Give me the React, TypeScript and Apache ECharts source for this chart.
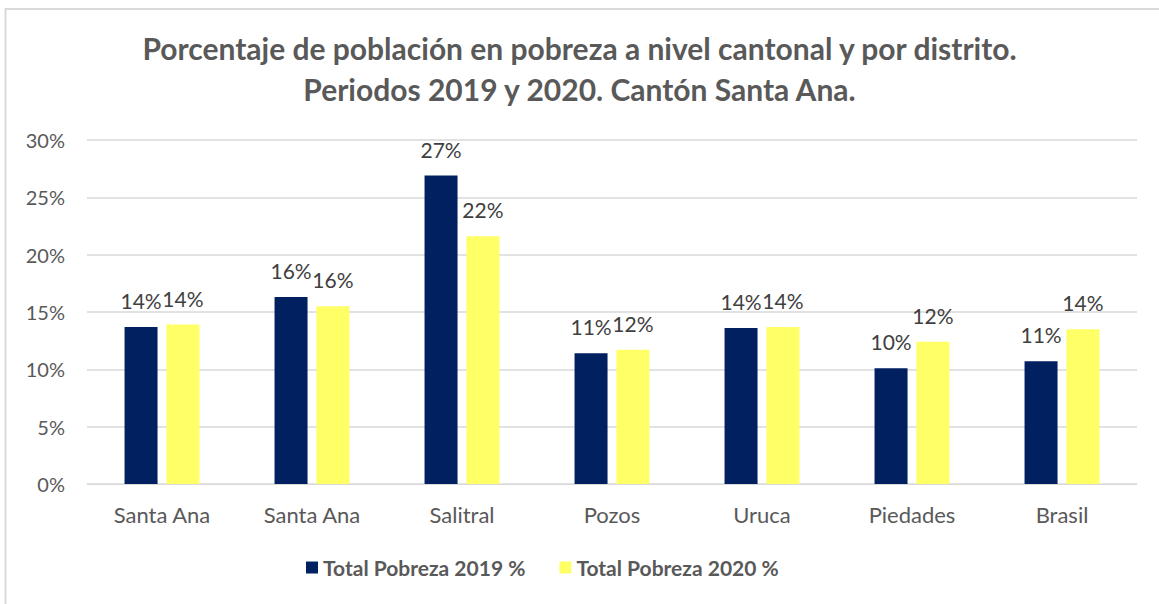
import React, { useEffect, useRef } from "react";
import * as echarts from "echarts";

const categories = ["Santa Ana", "Santa Ana", "Salitral", "Pozos", "Uruca", "Piedades", "Brasil"];
const pobreza2019 = [13.7, 16.3, 26.9, 11.4, 13.6, 10.1, 10.7];
const pobreza2020 = [13.9, 15.5, 21.6, 11.7, 13.7, 12.4, 13.5];
const seriesNames = ["Total Pobreza 2019 %", "Total Pobreza 2020 %"];
const titleText = "Porcentaje de población en pobreza a nivel cantonal y por distrito.\nPeriodos 2019 y 2020. Cantón Santa Ana.";

const FONT = "Lato, 'Open Sans', sans-serif";

export default function App() {
  const ref = useRef<HTMLDivElement>(null);
  useEffect(() => {
    if (!ref.current) return;
    const chart = echarts.init(ref.current, undefined, { renderer: "svg" });
    const labelCfg = {
      show: true,
      position: "top",
      distance: 16,
      color: "#404040",
      fontSize: 21,
      fontFamily: FONT,
      formatter: (p: any) => Math.round(p.value) + "%",
    };
    chart.setOption({
      animation: false,
      backgroundColor: "#ffffff",
      title: {
        text: titleText,
        left: "center",
        top: 22,
        textStyle: {
          color: "#595959",
          fontSize: 30,
          fontWeight: "bold",
          fontFamily: FONT,
          lineHeight: 41,
        },
      },
      graphic: [
        {
          type: "rect",
          shape: { x: 5.5, y: 9, width: 1300, height: 800 },
          style: { fill: "none", stroke: "#d9d9d9", lineWidth: 2 },
          silent: true,
        },
      ],
      legend: {
        bottom: 21,
        left: 301,
        itemWidth: 12,
        itemHeight: 12,
        itemGap: 34,
        icon: "rect",
        textStyle: { color: "#595959", fontSize: 21, fontWeight: "bold", fontFamily: FONT },
        data: seriesNames,
      },
      grid: { left: 87, right: 22, top: 140, bottom: 120 },
      xAxis: {
        type: "category",
        data: categories,
        axisLine: { lineStyle: { color: "#d9d9d9", width: 1 } },
        axisTick: { show: false },
        axisLabel: { color: "#595959", fontSize: 22, fontFamily: FONT, margin: 19 },
      },
      yAxis: {
        type: "value",
        min: 0,
        max: 30,
        interval: 5,
        axisLine: { show: false },
        axisTick: { show: false },
        splitLine: { lineStyle: { color: "#d9d9d9", width: 1.5 } },
        axisLabel: {
          color: "#595959",
          fontSize: 20,
          fontFamily: FONT,
          margin: 22,
          formatter: (v: number) => v + "%",
        },
      },
      series: [
        {
          name: seriesNames[0],
          type: "bar",
          data: pobreza2019,
          barWidth: 33,
          barGap: "27%",
          itemStyle: { color: "#002060" },
          label: labelCfg,
        },
        {
          name: seriesNames[1],
          type: "bar",
          data: pobreza2020,
          barWidth: 33,
          barGap: "27%",
          itemStyle: { color: "#FFFF66" },
          label: labelCfg,
        },
      ],
    });
    return () => chart.dispose();
  }, []);
  return (
    <div
      ref={ref}
      style={{ position: "absolute", left: 0, top: 0, width: 1159, height: 604 }}
    />
  );
}
